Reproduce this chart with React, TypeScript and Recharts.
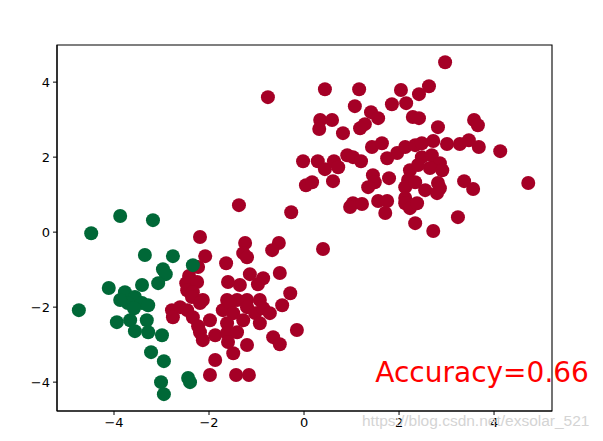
import React from 'react';
import { ScatterChart, Scatter, XAxis, YAxis, ReferenceDot, ReferenceArea } from 'recharts';

const xTicks = [-4, -2, 0, 2, 4];
const yTicks = [-4, -2, 0, 2, 4];
const xDomain: [number, number] = [-5.2, 5.22];
const yDomain: [number, number] = [-4.77, 4.99];
const accuracyText = 'Accuracy=0.66';
const accuracyPos = { x: 1.5, y: -4 };
const watermark = 'https://blog.csdn.net/exsolar_521';

const RED = '#a50026';
const GREEN = '#006837';

const redLower: [number, number][] = [
  [-1.37, 0.72], [-0.27, 0.53], [-2.19, -0.13], [-1.24, -0.29], [-0.53, -0.29],
  [-0.67, -0.48], [-1.28, -0.56], [-1.2, -0.67], [-2.08, -0.64], [-1.64, -0.83],
  [-2.23, -0.93], [-1.14, -1.12], [-0.86, -1.23], [-0.51, -1.09], [-2.42, -1.17],
  [-2.48, -1.36], [-2.25, -1.33], [-1.6, -1.33], [-1.35, -1.41], [-0.97, -1.39],
  [-2.46, -1.55], [-2.34, -1.6], [-2.36, -1.73], [-0.29, -1.63], [-2.13, -1.81],
  [-1.62, -1.81], [-1.41, -1.81], [-1.2, -1.81], [-0.93, -1.81], [-0.46, -1.95],
  [-2.78, -2.08], [-2.61, -2.0], [-2.76, -2.27], [-2.46, -2.08], [-2.19, -1.89],
  [-2.34, -2.27], [-1.98, -2.35], [-1.71, -2.08], [-1.56, -1.89], [-1.49, -2.16],
  [-1.2, -2.0], [-1.03, -2.16], [-0.86, -2.03], [-0.72, -2.16], [-0.93, -2.43],
  [-1.28, -2.35], [-1.62, -2.43], [-2.23, -2.51], [-2.19, -2.67], [-2.13, -2.88],
  [-1.87, -2.75], [-1.62, -2.69], [-1.41, -2.67], [-1.6, -2.93], [-1.2, -3.01],
  [-1.49, -3.23], [-0.65, -2.8], [-0.51, -2.99], [-0.15, -2.61], [-1.87, -3.41],
  [-1.98, -3.81], [-1.43, -3.81], [-1.16, -3.81], [-0.76, 3.6], [0.4, -0.45],
];

const redUpper: [number, number][] = [
  [2.97, 4.53], [0.44, 3.81], [1.16, 3.81], [2.04, 3.79], [2.63, 3.89],
  [2.42, 3.68], [1.07, 3.36], [1.85, 3.41], [2.15, 3.44], [1.41, 3.2],
  [1.56, 3.04], [1.28, 2.88], [1.18, 2.77], [0.34, 2.99], [0.59, 2.99],
  [0.32, 2.75], [0.82, 2.64], [2.29, 3.07], [2.42, 3.04], [2.82, 2.8],
  [3.58, 2.99], [3.66, 2.85], [1.43, 2.27], [1.64, 2.37], [-0.02, 1.89],
  [0.29, 1.89], [0.44, 1.68], [0.63, 1.89], [0.72, 1.73], [0.91, 2.05],
  [1.03, 2.0], [1.2, 1.89], [1.75, 1.97], [1.96, 2.11], [2.13, 2.27],
  [2.34, 2.32], [2.48, 2.37], [2.72, 2.43], [3.01, 2.35], [3.28, 2.35],
  [3.47, 2.45], [3.68, 2.27], [4.13, 2.16], [2.48, 2.0], [2.69, 2.05],
  [2.86, 1.84], [2.65, 1.71], [2.91, 1.65], [2.82, 1.31], [2.86, 1.17],
  [2.55, 1.12], [2.8, 1.04], [2.23, 1.65], [2.19, 1.39], [2.13, 1.2],
  [2.34, 1.33], [2.13, 0.91], [2.13, 0.77], [2.23, 0.64], [2.38, 0.77],
  [2.34, 0.24], [2.72, 0.03], [3.24, 0.4], [3.37, 1.36], [3.56, 1.15],
  [4.72, 1.31], [0.04, 1.25], [0.17, 1.33], [0.61, 1.36], [1.45, 1.52],
  [1.49, 1.33], [1.35, 1.2], [1.79, 1.44], [1.03, 0.77], [0.97, 0.67],
  [1.22, 0.75], [1.56, 0.83], [1.75, 0.83], [1.71, 0.51], [2.4, 1.79],
];

const greenPoints: [number, number][] = [
  [-4.74, -2.08], [-4.48, -0.03], [-3.87, 0.43], [-3.18, 0.32], [-3.35, -0.61],
  [-2.76, -0.64], [-2.34, -0.88], [-2.97, -0.99], [-2.91, -1.12], [-3.41, -1.41],
  [-3.07, -1.36], [-4.11, -1.49], [-3.77, -1.6], [-3.56, -1.73], [-3.71, -1.89],
  [-3.41, -1.89], [-3.28, -1.95], [-3.58, -2.03], [-3.94, -2.4], [-3.66, -2.35],
  [-3.31, -2.35], [-3.56, -2.64], [-3.28, -2.67], [-2.99, -2.75], [-3.22, -3.2],
  [-2.95, -3.44], [-3.01, -4.0], [-2.95, -4.32], [-2.44, -3.89], [-2.4, -4.0],
  [-3.87, -1.81],
];

const toObjs = (pts: [number, number][]) => pts.map(([x, y]) => ({ x, y }));
const redData = toObjs([...redLower, ...redUpper]);
const greenData = toObjs(greenPoints);

const fmt = (v: number) => String(v).replace('-', '\u2212');
const tickStyle = { fontFamily: 'DejaVu Sans', fontSize: 13, fill: '#000' };

const dot = (color: string) => (p: any) => (
  <circle cx={p.cx} cy={p.cy} r={7} fill={color} />
);

export default function App() {
  return (
    <div style={{ position: 'absolute', left: 0, top: 0, width: 603, height: 441, background: '#fff' }}>
      <ScatterChart width={603} height={441} margin={{ top: 45, right: 51, left: 0, bottom: 0 }}>
        <XAxis
          type="number"
          dataKey="x"
          domain={xDomain}
          ticks={xTicks}
          allowDataOverflow
          tickFormatter={fmt}
          tick={tickStyle}
          tickSize={4}
          tickMargin={3}
          height={30}
          stroke="#000"
          axisLine={{ stroke: '#000', strokeWidth: 1.1 }}
          tickLine={{ stroke: '#000' }}
        />
        <YAxis
          type="number"
          dataKey="y"
          domain={yDomain}
          ticks={yTicks}
          allowDataOverflow
          tickFormatter={fmt}
          tick={tickStyle}
          tickSize={4}
          tickMargin={3}
          width={57}
          stroke="#000"
          axisLine={{ stroke: '#000', strokeWidth: 1.1 }}
          tickLine={{ stroke: '#000' }}
        />
        <ReferenceArea
          x1={xDomain[0]}
          x2={xDomain[1]}
          y1={yDomain[0]}
          y2={yDomain[1]}
          fill="none"
          fillOpacity={0}
          stroke="#000"
          strokeWidth={1.1}
          ifOverflow="visible"
        />
        <Scatter data={redData} isAnimationActive={false} shape={dot(RED)} />
        <Scatter data={greenData} isAnimationActive={false} shape={dot(GREEN)} />
        <ReferenceDot
          x={accuracyPos.x}
          y={accuracyPos.y}
          r={0}
          shape={(p: any) => (
            <text x={p.cx} y={p.cy} fill="#ff0000" fontFamily="DejaVu Sans" fontSize={28}>
              {accuracyText}
            </text>
          )}
        />
      </ScatterChart>
      <div
        style={{
          position: 'absolute',
          left: 362,
          top: 412,
          fontFamily: 'Liberation Sans',
          fontSize: 15.5,
          color: '#d4d4d4',
          whiteSpace: 'nowrap',
        }}
      >
        {watermark}
      </div>
    </div>
  );
}
